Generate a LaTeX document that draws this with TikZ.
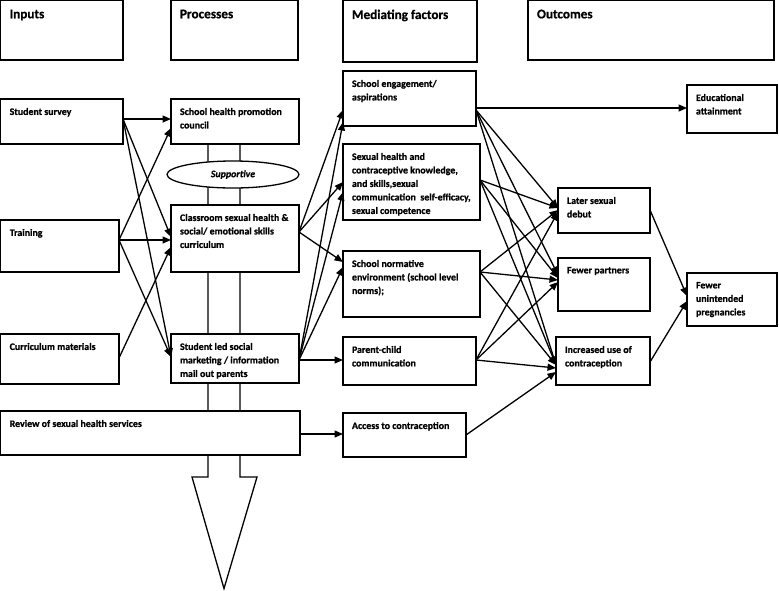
\documentclass[tikz,border=0pt]{standalone}
\usepackage{fontspec}
\setmainfont{Carlito}
\newfontfamily\cb{Carlito}[UprightFont={* Bold},ItalicFont={* Bold Italic},FakeBold=0.7]
\usetikzlibrary{arrows.meta,shapes.geometric}
\newcommand\mkbox[7]{%
  \pgfmathsetmacro\bw{#4-#2-18}%
  \pgfmathsetmacro\bh{#5-#3-18}%
  \node[#6, anchor=north west] (#1) at (#2,#3) {\parbox[c][\bh pt][t]{\bw pt}{\raggedright #7}};}
\tikzset{
  bx/.style={draw, fill=white, line width=1.3pt, inner xsep=9pt, inner ysep=9pt, outer sep=0pt,
    font=\cb\fontsize{9.9}{13.5}\selectfont},
  hd/.style={bx, font=\cb\fontsize{13.2}{15}\selectfont},
  ar/.style={line width=1.3pt, -{Triangle[length=8.5pt,width=7pt]}},
  bigarrow/.style={draw, fill=white, line width=1.3pt, line join=miter}
}
\begin{document}
\begin{tikzpicture}[x=1pt,y=-1pt]
\useasboundingbox (0,0) rectangle (779,590);
% background process arrow
\path[bigarrow] (208,144) -- (208,477) -- (192,477) -- (224,588.5) -- (257,477) -- (240,477) -- (240,144);
% headers
\mkbox{hIn}{0.7}{0.7}{123}{60}{hd}{Inputs}
\mkbox{hPr}{171}{0.7}{298}{60}{hd}{Processes}
\mkbox{hMe}{343}{0.7}{477}{62}{hd}{Mediating factors}
\mkbox{hOu}{528}{0.7}{774}{60}{hd}{Outcomes}
% inputs
\mkbox{in1}{0.7}{99}{123}{144}{bx}{Student survey}
\mkbox{in2}{0.7}{220}{119}{272}{bx}{Training}
\mkbox{in3}{0.7}{334}{119}{384}{bx}{Curriculum materials}
\mkbox{rev}{0.7}{411}{300}{455}{bx}{Review of sexual health services}
% processes
\mkbox{pr1}{171}{99}{299}{144}{bx}{School health promotion\\council}
\mkbox{pr2}{171}{205}{299}{272}{bx}{Classroom sexual health \&\\social/ emotional skills\\curriculum}
\mkbox{pr3}{171}{334}{299}{383}{bx}{Student led social\\marketing / information\\mail out parents}
\node[ellipse, draw, fill=white, line width=1.3pt, minimum width=132pt, minimum height=27pt, inner sep=0pt,
  font=\cb\itshape\fontsize{9.9}{11}\selectfont] (sup) at (233,174.5) {Supportive};
% mediating
\mkbox{me1}{343}{71}{476}{126}{bx}{School engagement/\\aspirations}
\mkbox{me2}{343}{144}{480}{220}{bx}{Sexual health and\\contraceptive knowledge,\\and skills,sexual\\communication\ \ self-efficacy,\\sexual competence}
\mkbox{me3}{343}{251}{480}{317}{bx}{School normative\\environment (school level\\norms);}
\mkbox{me4}{343}{337}{476}{385}{bx}{Parent-child\\communication}
\mkbox{me5}{343}{413}{466}{457}{bx}{Access to contraception}
% outcomes
\mkbox{ou1}{687}{85}{777}{133}{bx}{Educational\\attainment}
\mkbox{ou2}{558}{188}{650}{233}{bx}{Later sexual\\debut}
\mkbox{ou3}{558}{258}{650}{311}{bx}{Fewer partners}
\mkbox{ou4}{556}{337}{650}{385}{bx}{Increased use of\\contraception}
\mkbox{ou5}{687}{273}{777}{326}{bx}{Fewer\\unintended\\pregnancies}
% inputs -> processes
\draw[ar] ([yshift=2.5pt]in1.east) -- ([yshift=2.5pt]pr1.west);
\draw[ar] ([yshift=2.5pt]in1.east) -- ([yshift=1.5pt]pr2.west);
\draw[ar] ([yshift=2.5pt]in1.east) -- ([yshift=1.5pt]pr3.west);
\draw[ar] ([yshift=6pt]in2.east) -- ([yshift=-6.5pt]pr1.west);
\draw[ar] ([yshift=6pt]in2.east) -- ([yshift=-1.5pt]pr2.west);
\draw[ar] ([yshift=6pt]in2.east) -- ([yshift=1.5pt]pr3.west);
\draw[ar] ([yshift=1pt]in3.east) -- ([yshift=-8.5pt]pr2.west);
% processes -> mediating
\draw[ar] ([yshift=6.5pt]pr2.east) -- ([yshift=-11.5pt]me1.west);
\draw[ar] ([yshift=6.5pt]pr2.east) -- (me2.west);
\draw[ar] ([yshift=6.5pt]pr2.east) -- ([yshift=22pt]me3.west);
\draw[ar] ([yshift=-1.5pt]pr3.east) -- ([yshift=-23.5pt]me1.west);
\draw[ar] ([yshift=-1.5pt]pr3.east) -- ([yshift=-10pt]me2.west);
\draw[ar] ([yshift=-1.5pt]pr3.east) -- ([yshift=17pt]me3.west);
\draw[ar] ([yshift=-1.5pt]pr3.east) -- ([yshift=1pt]me4.west);
\draw[ar] ([yshift=-1pt]rev.east) -- ([yshift=1pt]me5.west);
% mediating -> outcomes
\draw[ar] ([yshift=-9.5pt]me1.east) -- ([yshift=1pt]ou1.west);
\draw[ar] ([yshift=-11.5pt]me1.east) -- ([yshift=2.5pt]ou2.west);
\draw[ar] ([yshift=-11.5pt]me1.east) -- ([yshift=9.5pt]ou3.west);
\draw[ar] ([yshift=-11.5pt]me1.east) -- ([yshift=-4pt]ou4.west);
\draw[ar] ([yshift=2pt]me2.east) -- ([yshift=2.5pt]ou2.west);
\draw[ar] ([yshift=2pt]me2.east) -- ([yshift=6.5pt]ou3.west);
\draw[ar] ([yshift=2pt]me2.east) -- ([yshift=-4pt]ou4.west);
\draw[ar] ([yshift=12pt]me3.east) -- ([yshift=0.5pt]ou2.west);
\draw[ar] ([yshift=12pt]me3.east) -- ([yshift=4.5pt]ou3.west);
\draw[ar] ([yshift=12pt]me3.east) -- ([yshift=-4pt]ou4.west);
\draw[ar] ([yshift=1pt]me4.east) -- ([yshift=-1.5pt]ou2.west);
\draw[ar] ([yshift=1pt]me4.east) -- ([yshift=2.5pt]ou3.west);
\draw[ar] ([yshift=1pt]me4.east) -- ([yshift=-7pt]ou4.west);
\draw[ar] (me5.east) -- ([yshift=-11pt]ou4.west);
% outcomes -> final
\draw[ar] ([yshift=0.5pt]ou2.east) -- ([yshift=3.5pt]ou5.west);
\draw[ar] ([yshift=-1pt]ou4.east) -- ([yshift=-1.5pt]ou5.west);
\end{tikzpicture}
\end{document}
